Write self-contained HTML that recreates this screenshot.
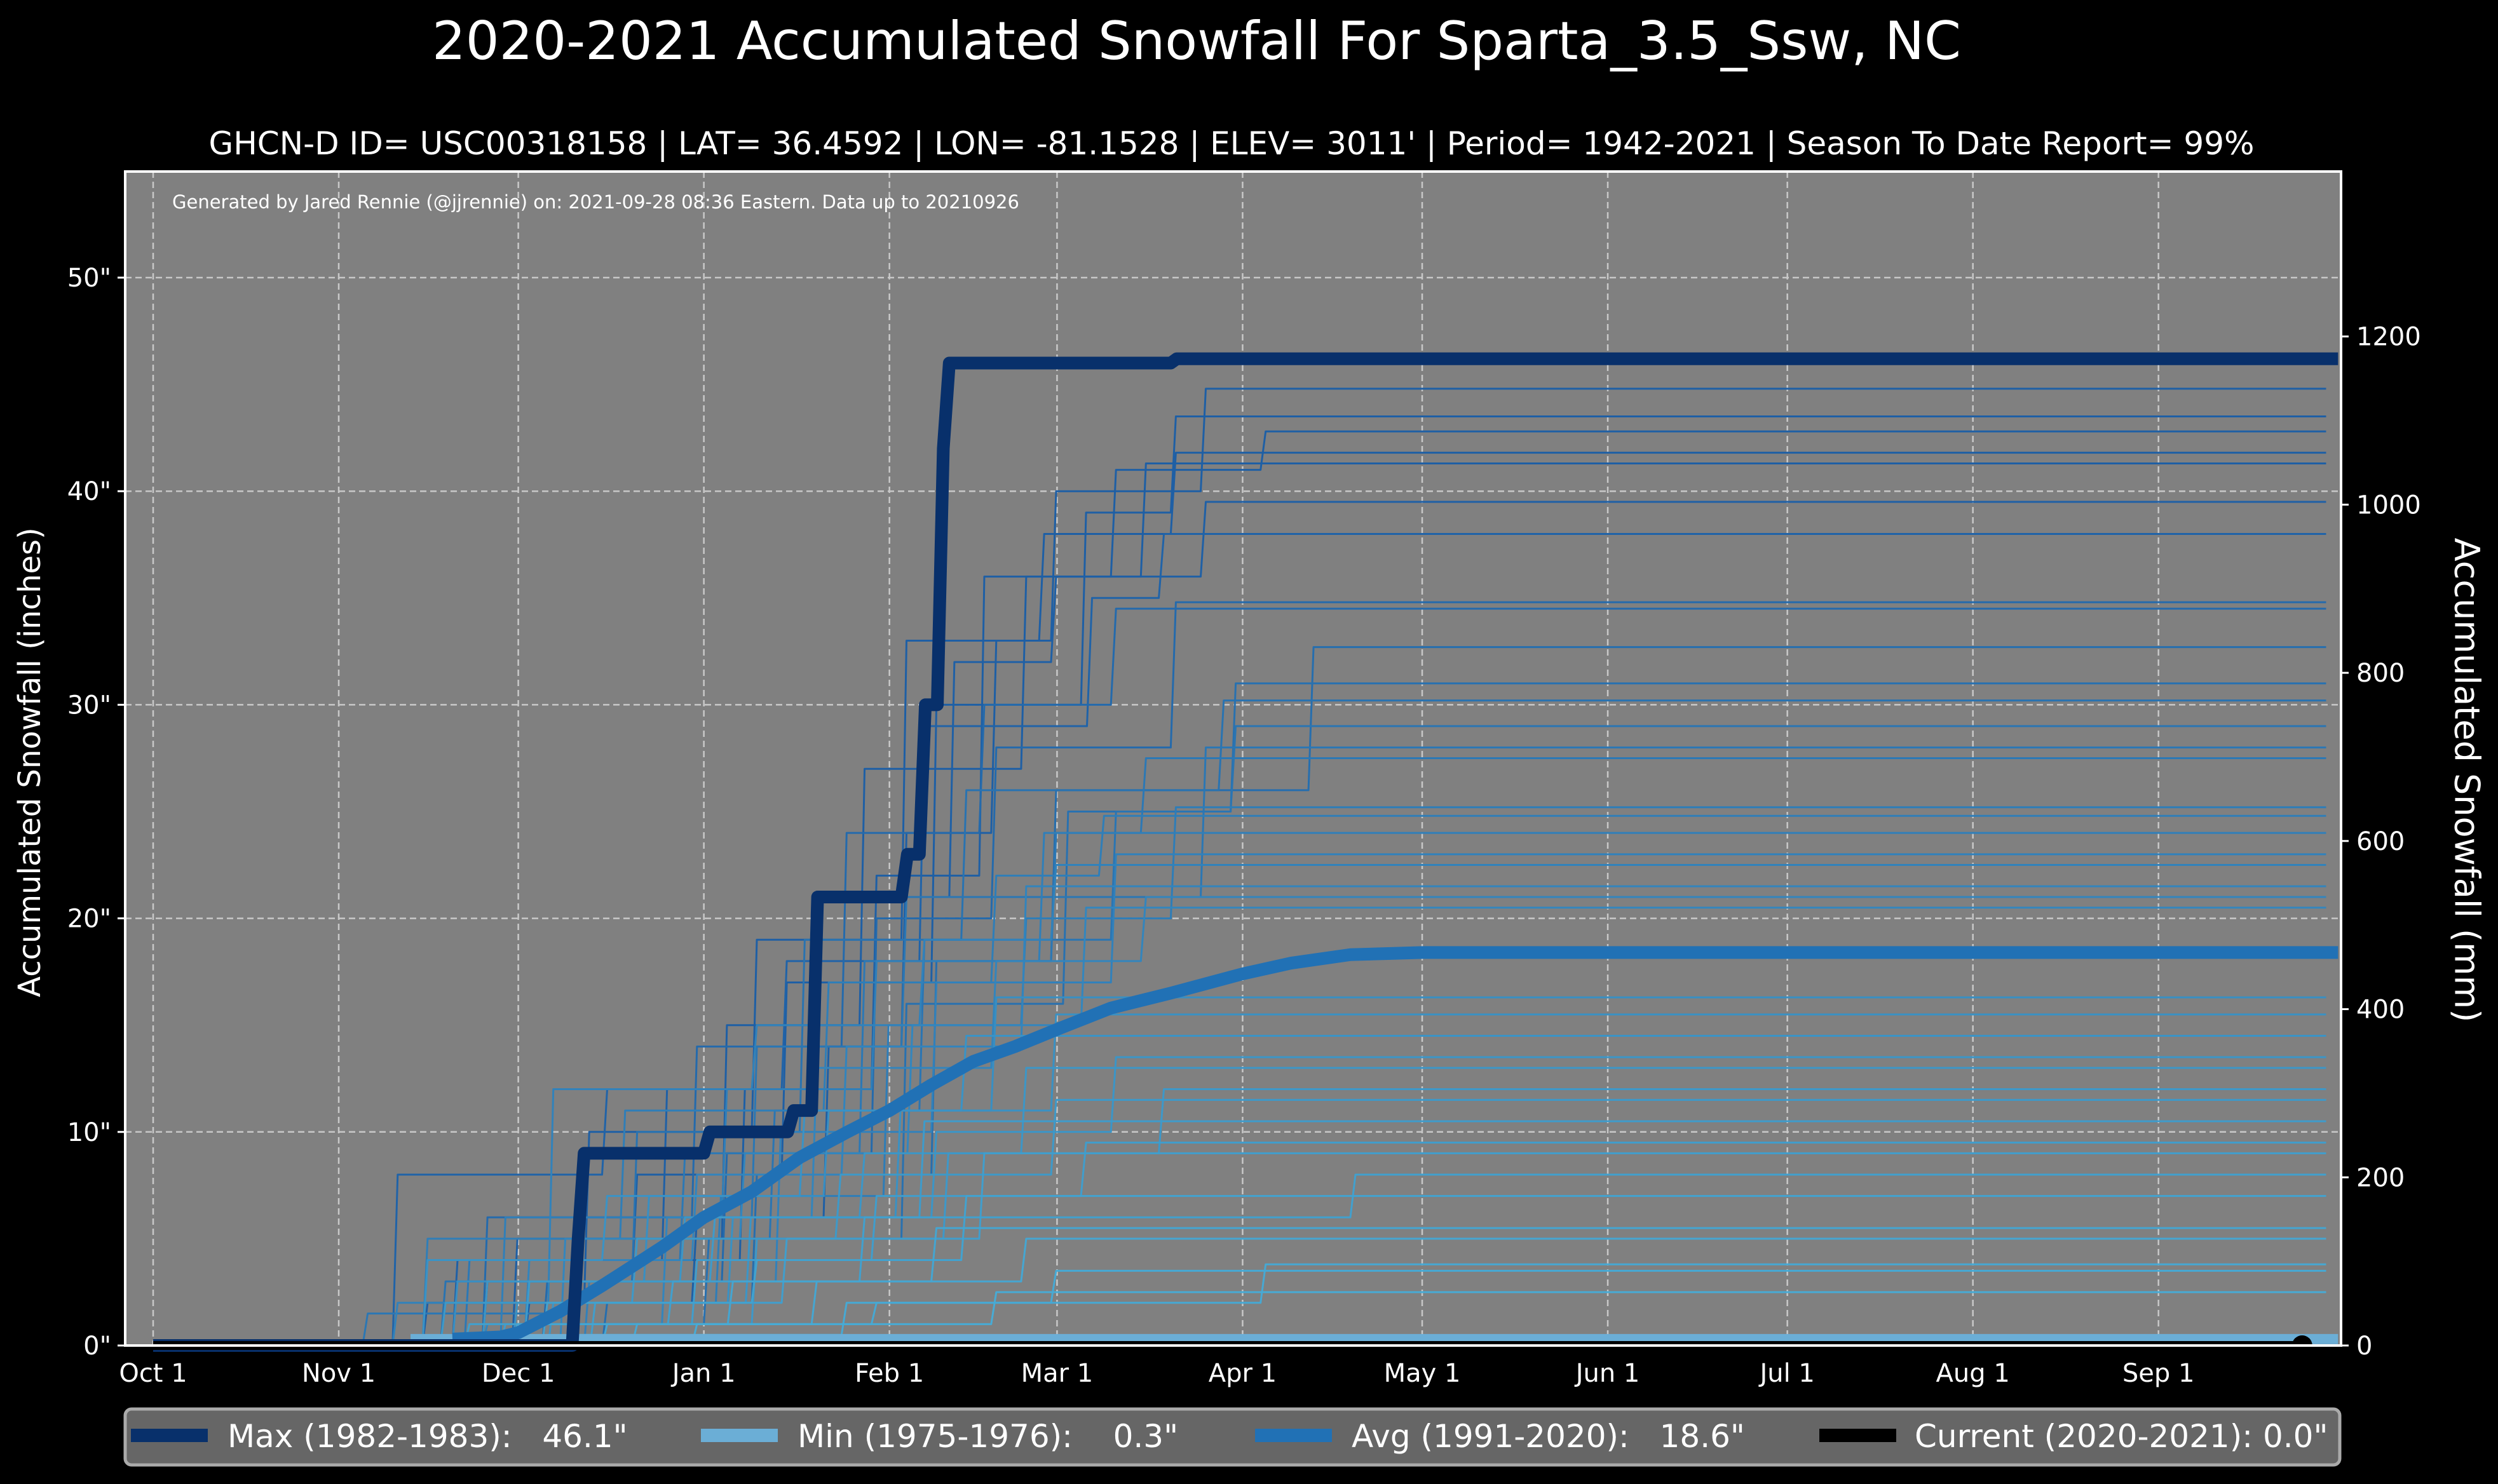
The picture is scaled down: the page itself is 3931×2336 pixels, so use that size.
<!DOCTYPE html>
<html><head><meta charset="utf-8"><title>Accumulated Snowfall</title>
<style>html,body{margin:0;padding:0;background:#000;}svg{display:block;font-family:"DejaVu Sans","Liberation Sans",sans-serif;}</style>
</head><body>
<svg id="chart" width="3931" height="2336" viewBox="0 0 3931 2336" xmlns="http://www.w3.org/2000/svg">
<rect x="0" y="0" width="3931" height="2336" fill="#000"/>
<text x="1883" y="93" font-size="83" fill="#fff" text-anchor="middle">2020-2021 Accumulated Snowfall For Sparta_3.5_Ssw, NC</text>
<text x="1938" y="243" font-size="50" fill="#fff" text-anchor="middle">GHCN-D ID= USC00318158 | LAT= 36.4592 | LON= -81.1528 | ELEV= 3011' | Period= 1942-2021 | Season To Date Report= 99%</text>
<g id="plot"></g>
<text x="50" y="1200" font-size="48" fill="#fff" text-anchor="middle" transform="rotate(-90 50 1200)" dominant-baseline="middle">Accumulated Snowfall (inches)</text>
<text x="3878" y="1228" font-size="54" fill="#fff" text-anchor="middle" transform="rotate(90 3878 1228)" dominant-baseline="middle">Accumulated Snowfall (mm)</text>
<g>
<rect x="197" y="2218" width="3485" height="88" rx="10" fill="#666" stroke="#aaa" stroke-width="5"/>
<rect x="206" y="2249" width="121" height="21" fill="#08306b"/>
<text x="358" y="2278" font-size="50" fill="#fff" xml:space="preserve">Max (1982-1983):   46.1"</text>
<rect x="1103" y="2249" width="121" height="21" fill="#6baed6"/>
<text x="1255" y="2278" font-size="50" fill="#fff" xml:space="preserve">Min (1975-1976):    0.3"</text>
<rect x="1975" y="2249" width="121" height="21" fill="#2171b5"/>
<text x="2127" y="2278" font-size="50" fill="#fff" xml:space="preserve">Avg (1991-2020):   18.6"</text>
<rect x="2863" y="2249" width="121" height="21" fill="#000"/>
<text x="3013" y="2278" font-size="50" fill="#fff">Current (2020-2021): 0.0"</text>
</g>
</svg>
<script>
// x: days since Oct 1; y: inches
const monthLabels = ["Oct 1","Nov 1","Dec 1","Jan 1","Feb 1","Mar 1","Apr 1","May 1","Jun 1","Jul 1","Aug 1","Sep 1"];
const monthDays = [0,31,61,92,123,151,182,212,243,273,304,335];
const yTicksIn = [0,10,20,30,40,50];
const yTicksMm = [0,200,400,600,800,1000,1200];
const maxSeries = [[0,0],[70,0],[71,5],[72,9],[92,9],[93,10],[106,10],[107,11],[110,11],[111,21],[125,21],[126,23],[128,23],[129,30],[131,30],[132,42],[133,46],[170,46],[171,46.2],[365,46.2]];
const minSeries = [[43,0.3],[365,0.3]];
const avgSeries = [[50,0.3],[58,0.4],[61,0.6],[68,1.6],[75,2.8],[85,4.6],[92,6],[100,7.2],[108,8.8],[116,10],[123,11],[130,12.2],[137,13.3],[144,14],[151,14.8],[160,15.8],[170,16.5],[182,17.4],[190,17.9],[200,18.3],[212,18.4],[365,18.4]];
const currentSeries = [[0,0],[359,0]];
const yearSeries = [
 [[62,2],[90,6],[112,14],[125,24],[140,33],[150,40],[175,44.8]],
 [[55,3],[80,8],[105,17],[130,30],[155,39],[170,43.5]],
 [[70,4],[98,12],[120,22],[138,36],[160,41],[185,42.8]],
 [[45,2],[72,10],[100,19],[125,33],[148,38],[170,41.8]],
 [[60,5],[95,15],[118,27],[145,36],[165,41.3]],
 [[50,4],[85,12],[110,21],[133,32],[150,36],[175,39.5]],
 [[40,8],[75,12],[105,18],[128,29],[156,35],[168,38]],
 [[65,3],[95,9],[120,20],[140,28],[170,34.8]],
 [[55,6],[90,14],[115,24],[138,30],[160,34.5]],
 [[75,2],[100,8],[130,18],[150,26],[193,32.7]],
 [[60,1],[92,5],[125,16],[152,25],[180,31]],
 [[48,3],[80,10],[108,19],[135,26],[178,30.2]],
 [[70,5],[103,11],[128,19],[160,25],[180,29]],
 [[35,1.5],[70,6],[100,14],[125,21],[175,28]],
 [[52,4],[88,9],[118,18],[150,24],[165,27.5]],
 [[65,2],[94,7],[122,15],[145,20],[170,25.2]],
 [[45,5],[78,11],[112,17],[140,22],[158,24.8]],
 [[58,6],[95,12],[120,18],[148,24]],
 [[72,3],[104,10],[130,17],[160,23]],
 [[40,2],[66,12],[100,15],[128,19],[150,22.5]],
 [[62,4],[90,8],[115,14],[145,21.5]],
 [[55,1],[85,6],[110,13],[140,18],[165,21]],
 [[68,5],[98,9],[126,15],[155,20.5]],
 [[50,3],[82,7],[112,11],[140,16.3]],
 [[60,2],[96,6],[124,11],[150,15.5]],
 [[45,4],[75,7],[108,11],[135,14.5]],
 [[66,2],[99,6],[130,10],[160,13.5]],
 [[55,3],[88,6],[118,9],[145,13]],
 [[70,1],[100,5],[132,9],[168,12]],
 [[48,2],[80,5],[114,8],[150,11.5]],
 [[62,3],[93,6],[128,10.5]],
 [[58,1],[90,4],[120,7],[155,9.5]],
 [[73,2],[105,5],[138,9]],
 [[52,1],[86,3],[118,6],[200,8]],
 [[65,2],[100,4],[135,7]],
 [[60,1],[96,3],[130,5.5]],
 [[75,1],[110,3],[145,5]],
 [[80,1],[120,2],[185,3.8]],
 [[70,0.5],[115,2],[150,3.5]],
 [[90,1],[140,2.5]]
];
const X0 = 241, PXD = 9.42, Y0 = 2118, PXI = 33.62;
const PL = 197, PR = 3684, PT = 270, PB = 2118;
const xs = d => X0 + d * PXD;
const ys = v => Y0 - v * PXI;
const NS = "http://www.w3.org/2000/svg";
const svg = document.getElementById('chart');
const plot = document.getElementById('plot');
function mk(tag, attrs, parent){ const e = document.createElementNS(NS, tag); for (const k in attrs) e.setAttribute(k, attrs[k]); (parent||plot).appendChild(e); return e; }
const bg = mk('rect',{x:PL,y:PT,width:PR-PL,height:PB-PT,fill:'#808080'});


monthDays.forEach((d,i)=>{
  const g = mk('line',{x1:xs(d),x2:xs(d),y1:PT,y2:PB,stroke:'#c8c8c8','stroke-width':2.5,'stroke-dasharray':'10 6'});
  
  
  const t = mk('text',{x:xs(d),y:2175,'font-size':40,fill:'#fff','text-anchor':'middle'}, svg);
  t.textContent = monthLabels[i];
  
  
});
yTicksIn.forEach(v=>{
  const g = mk('line',{x1:PL,x2:PR,y1:ys(v),y2:ys(v),stroke:'#c8c8c8','stroke-width':2.5,'stroke-dasharray':'10 6'});
  
  
  const tk = mk('line',{x1:PL-12,x2:PL,y1:ys(v),y2:ys(v),stroke:'#fff','stroke-width':3}, svg);
  
  
  const t = mk('text',{x:PL-22,y:ys(v)+14,'font-size':40,fill:'#fff','text-anchor':'end'}, svg);
  t.textContent = v + '"';
  
  
});
yTicksMm.forEach(v=>{
  const y = ys(v/25.4);
  const tk = mk('line',{x1:PR,x2:PR+12,y1:y,y2:y,stroke:'#fff','stroke-width':3}, svg);
  
  
  const t = mk('text',{x:PR+24,y:y+14,'font-size':40,fill:'#fff'}, svg);
  t.textContent = v;
  
  
});
function stepPath(pts, end){
  let d = 'M' + xs(0) + ',' + ys(0);
  let prev = 0;
  pts.forEach(p=>{ d += ' L' + xs(p[0]) + ',' + ys(prev) + ' L' + (xs(p[0])+8) + ',' + ys(p[1]); prev = p[1]; });
  d += ' L' + xs(end) + ',' + ys(prev);
  return d;
}
function lerpColor(t){
  const a=[74,176,216], b=[30,95,165];
  return 'rgb(' + a.map((c,i)=>Math.round(c+(b[i]-c)*t)).join(',') + ')';
}
yearSeries.forEach(pts=>{
  const fin = pts[pts.length-1][1];
  const p = mk('path',{d:stepPath(pts,363),fill:'none',stroke:lerpColor(Math.min(1,fin/40)),'stroke-width':3,'stroke-linejoin':'round'});
  
  
});
function linePath(pts){ return pts.map((p,i)=>(i?'L':'M')+xs(p[0])+','+ys(p[1])).join(' '); }
const minP = mk('path',{d:linePath(minSeries),fill:'none',stroke:'#6baed6','stroke-width':16});


const avgP = mk('path',{d:linePath(avgSeries),fill:'none',stroke:'#2171b5','stroke-width':20,'stroke-linejoin':'round'});


const maxP = mk('path',{d:linePath(maxSeries),fill:'none',stroke:'#08306b','stroke-width':20,'stroke-linejoin':'round'});


const curP = mk('path',{d:linePath(currentSeries),fill:'none',stroke:'#000','stroke-width':14});


const last = currentSeries[currentSeries.length-1];
const dot = mk('circle',{cx:xs(last[0]),cy:ys(last[1]),r:16,fill:'#000'});


const frame = mk('rect',{x:PL,y:PT,width:PR-PL,height:PB-PT,fill:'none',stroke:'#fff','stroke-width':4});


const gen = mk('text',{x:271,y:328,'font-size':29,fill:'#fff'});
gen.textContent = 'Generated by Jared Rennie (@jjrennie) on: 2021-09-28 08:36 Eastern. Data up to 20210926';


</script>
</body></html>
